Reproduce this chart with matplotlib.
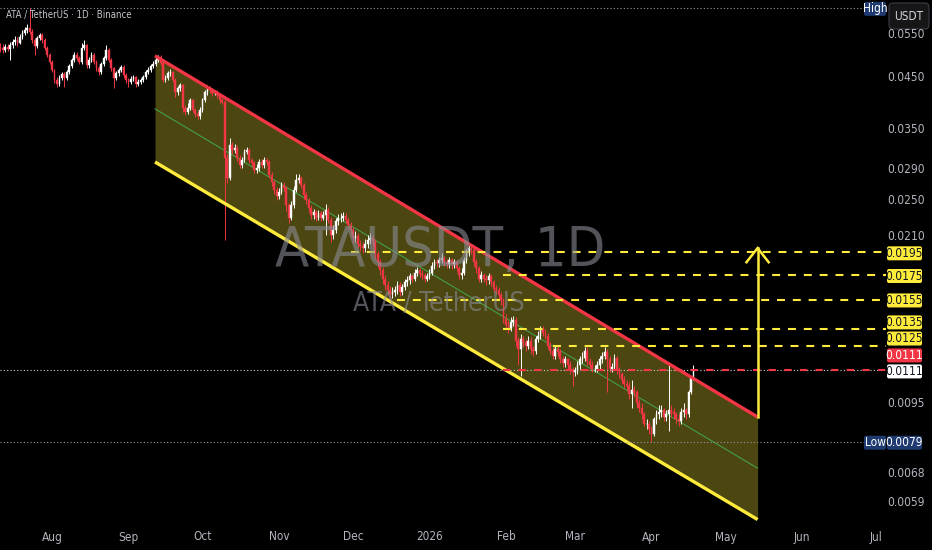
import os
import matplotlib
matplotlib.use('Agg')
import matplotlib.pyplot as plt
import numpy as np
import pandas as pd
from matplotlib.patches import FancyBboxPatch
from matplotlib import font_manager as fm

# ---------------- data ----------------
start_date = '2025-07-11'
first_open = 0.0520
close = [
    0.0517, 0.0512, 0.0519, 0.0514, 0.0524, 0.0532, 0.0537, 0.0529, 0.0545, 0.0555,
    0.0563, 0.0569, 0.0558, 0.0537, 0.0522, 0.0542, 0.0550, 0.0537, 0.0517, 0.0500,
    0.0483, 0.0465, 0.0444, 0.0435, 0.0448, 0.0456, 0.0448, 0.0461, 0.0474, 0.0488,
    0.0500, 0.0493, 0.0483, 0.0517, 0.0524, 0.0476, 0.0488, 0.0500, 0.0483, 0.0469,
    0.0461, 0.0479, 0.0493, 0.0512, 0.0488, 0.0469, 0.0448, 0.0458, 0.0465, 0.0472,
    0.0454, 0.0444, 0.0440, 0.0446, 0.0450, 0.0435, 0.0440, 0.0444, 0.0450, 0.0461,
    0.0465, 0.0474, 0.0479, 0.0488, 0.0495, 0.0481, 0.0444, 0.0448, 0.0458, 0.0461,
    0.0444, 0.0419, 0.0427, 0.0433, 0.0388, 0.0381, 0.0388, 0.0403, 0.0385, 0.0377,
    0.0373, 0.0385, 0.0403, 0.0419, 0.0427, 0.0423, 0.0417, 0.0419, 0.0413, 0.0403,
    0.0399, 0.0306, 0.0278, 0.0325, 0.0318, 0.0321, 0.0306, 0.0296, 0.0303, 0.0315,
    0.0318, 0.0303, 0.0299, 0.0289, 0.0292, 0.0300, 0.0296, 0.0303, 0.0300, 0.0282,
    0.0273, 0.0263, 0.0255, 0.0260, 0.0269, 0.0265, 0.0244, 0.0230, 0.0244, 0.0263,
    0.0275, 0.0278, 0.0269, 0.0256, 0.0250, 0.0241, 0.0233, 0.0236, 0.0230, 0.0235,
    0.0230, 0.0233, 0.0239, 0.0228, 0.0212, 0.0217, 0.0226, 0.0230, 0.0230, 0.0232,
    0.0228, 0.0222, 0.0217, 0.0209, 0.0211, 0.0203, 0.0201, 0.0199, 0.0203, 0.0207,
    0.0209, 0.0205, 0.0193, 0.0186, 0.0179, 0.0172, 0.0167, 0.0163, 0.0160, 0.0161,
    0.0163, 0.0167, 0.0161, 0.0165, 0.0169, 0.0171, 0.0174, 0.0172, 0.0177, 0.0179,
    0.0176, 0.0175, 0.0172, 0.0174, 0.0177, 0.0183, 0.0186, 0.0185, 0.0188, 0.0190,
    0.0186, 0.0184, 0.0188, 0.0184, 0.0186, 0.0181, 0.0175, 0.0177, 0.0188, 0.0195,
    0.0199, 0.0197, 0.0186, 0.0181, 0.0172, 0.0175, 0.0172, 0.0171, 0.0174, 0.0169,
    0.0164, 0.0163, 0.0159, 0.0155, 0.0142, 0.0138, 0.0136, 0.0140, 0.0141, 0.0128,
    0.0123, 0.0129, 0.0127, 0.0125, 0.0128, 0.0123, 0.0122, 0.0129, 0.0131, 0.0135,
    0.0133, 0.0131, 0.0125, 0.0122, 0.0119, 0.0123, 0.0121, 0.0117, 0.0115, 0.0117,
    0.0114, 0.0111, 0.0110, 0.0111, 0.0114, 0.0117, 0.0118, 0.0122, 0.0116, 0.0114,
    0.0112, 0.0112, 0.0114, 0.0117, 0.0119, 0.0121, 0.0117, 0.0112, 0.0113, 0.0118,
    0.0111, 0.0109, 0.0106, 0.0104, 0.0103, 0.0099, 0.0101, 0.0100, 0.0095, 0.0093,
    0.0090, 0.0086, 0.0086, 0.0084, 0.0082, 0.0088, 0.0090, 0.0091, 0.0092, 0.0089,
    0.0090, 0.0092, 0.0091, 0.0090, 0.0088, 0.0087, 0.0091, 0.0092, 0.0090, 0.0100,
    0.0107, 0.0111,
]
high = [
    0.0530, 0.0526, 0.0528, 0.0527, 0.0531, 0.0540, 0.0548, 0.0545, 0.0552, 0.0562,
    0.0572, 0.0580, 0.0626, 0.0565, 0.0542, 0.0548, 0.0556, 0.0555, 0.0541, 0.0521,
    0.0504, 0.0487, 0.0468, 0.0450, 0.0455, 0.0462, 0.0460, 0.0466, 0.0479, 0.0493,
    0.0506, 0.0508, 0.0497, 0.0530, 0.0537, 0.0528, 0.0494, 0.0506, 0.0505, 0.0487,
    0.0474, 0.0484, 0.0498, 0.0525, 0.0516, 0.0492, 0.0472, 0.0463, 0.0470, 0.0477,
    0.0476, 0.0458, 0.0449, 0.0452, 0.0455, 0.0453, 0.0445, 0.0449, 0.0455, 0.0466,
    0.0471, 0.0480, 0.0485, 0.0494, 0.0500, 0.0499, 0.0484, 0.0455, 0.0463, 0.0467,
    0.0464, 0.0447, 0.0432, 0.0437, 0.0436, 0.0393, 0.0398, 0.0408, 0.0406, 0.0389,
    0.0382, 0.0390, 0.0407, 0.0424, 0.0433, 0.0431, 0.0427, 0.0424, 0.0423, 0.0416,
    0.0407, 0.0403, 0.0312, 0.0336, 0.0330, 0.0327, 0.0325, 0.0310, 0.0308, 0.0320,
    0.0323, 0.0321, 0.0306, 0.0302, 0.0297, 0.0305, 0.0304, 0.0308, 0.0306, 0.0303,
    0.0286, 0.0276, 0.0266, 0.0265, 0.0273, 0.0273, 0.0268, 0.0247, 0.0249, 0.0268,
    0.0284, 0.0283, 0.0281, 0.0272, 0.0260, 0.0253, 0.0244, 0.0240, 0.0239, 0.0239,
    0.0238, 0.0237, 0.0246, 0.0242, 0.0231, 0.0222, 0.0230, 0.0234, 0.0235, 0.0236,
    0.0235, 0.0231, 0.0225, 0.0220, 0.0216, 0.0214, 0.0207, 0.0205, 0.0208, 0.0212,
    0.0214, 0.0212, 0.0208, 0.0196, 0.0189, 0.0182, 0.0175, 0.0170, 0.0166, 0.0165,
    0.0166, 0.0170, 0.0169, 0.0168, 0.0172, 0.0174, 0.0177, 0.0176, 0.0180, 0.0182,
    0.0181, 0.0179, 0.0177, 0.0177, 0.0180, 0.0186, 0.0189, 0.0189, 0.0191, 0.0194,
    0.0192, 0.0189, 0.0191, 0.0190, 0.0189, 0.0188, 0.0183, 0.0181, 0.0191, 0.0198,
    0.0204, 0.0202, 0.0199, 0.0189, 0.0183, 0.0178, 0.0177, 0.0175, 0.0177, 0.0176,
    0.0171, 0.0167, 0.0165, 0.0161, 0.0157, 0.0145, 0.0141, 0.0143, 0.0144, 0.0143,
    0.0130, 0.0132, 0.0131, 0.0129, 0.0131, 0.0130, 0.0125, 0.0131, 0.0134, 0.0137,
    0.0137, 0.0135, 0.0133, 0.0127, 0.0124, 0.0125, 0.0125, 0.0123, 0.0119, 0.0119,
    0.0118, 0.0116, 0.0113, 0.0113, 0.0116, 0.0119, 0.0121, 0.0124, 0.0124, 0.0118,
    0.0116, 0.0114, 0.0116, 0.0119, 0.0121, 0.0124, 0.0123, 0.0119, 0.0115, 0.0120,
    0.0119, 0.0113, 0.0110, 0.0108, 0.0106, 0.0105, 0.0106, 0.0103, 0.0101, 0.0097,
    0.0095, 0.0091, 0.0088, 0.0087, 0.0085, 0.0089, 0.0092, 0.0094, 0.0094, 0.0093,
    0.0092, 0.0114, 0.0094, 0.0093, 0.0091, 0.0090, 0.0093, 0.0095, 0.0093, 0.0101,
    0.0108, 0.0114,
]
low = [
    0.0508, 0.0505, 0.0506, 0.0509, 0.0488, 0.0518, 0.0525, 0.0522, 0.0526, 0.0540,
    0.0550, 0.0556, 0.0552, 0.0530, 0.0500, 0.0518, 0.0536, 0.0530, 0.0512, 0.0494,
    0.0478, 0.0460, 0.0438, 0.0430, 0.0432, 0.0444, 0.0429, 0.0444, 0.0457, 0.0470,
    0.0484, 0.0488, 0.0478, 0.0480, 0.0512, 0.0470, 0.0470, 0.0484, 0.0478, 0.0463,
    0.0455, 0.0457, 0.0475, 0.0489, 0.0484, 0.0463, 0.0427, 0.0444, 0.0453, 0.0460,
    0.0449, 0.0438, 0.0429, 0.0436, 0.0441, 0.0430, 0.0431, 0.0436, 0.0440, 0.0446,
    0.0456, 0.0461, 0.0469, 0.0474, 0.0483, 0.0476, 0.0440, 0.0439, 0.0444, 0.0452,
    0.0439, 0.0410, 0.0414, 0.0421, 0.0380, 0.0375, 0.0377, 0.0384, 0.0380, 0.0372,
    0.0369, 0.0369, 0.0381, 0.0399, 0.0414, 0.0418, 0.0412, 0.0413, 0.0408, 0.0398,
    0.0395, 0.0207, 0.0272, 0.0275, 0.0312, 0.0313, 0.0301, 0.0291, 0.0292, 0.0300,
    0.0311, 0.0299, 0.0294, 0.0285, 0.0285, 0.0288, 0.0291, 0.0292, 0.0296, 0.0278,
    0.0268, 0.0258, 0.0250, 0.0252, 0.0257, 0.0261, 0.0238, 0.0224, 0.0227, 0.0241,
    0.0260, 0.0271, 0.0265, 0.0252, 0.0245, 0.0236, 0.0229, 0.0229, 0.0226, 0.0227,
    0.0226, 0.0227, 0.0212, 0.0224, 0.0205, 0.0208, 0.0214, 0.0222, 0.0225, 0.0226,
    0.0224, 0.0218, 0.0213, 0.0204, 0.0205, 0.0199, 0.0196, 0.0194, 0.0195, 0.0199,
    0.0203, 0.0201, 0.0189, 0.0182, 0.0175, 0.0168, 0.0163, 0.0159, 0.0156, 0.0157,
    0.0158, 0.0160, 0.0158, 0.0159, 0.0163, 0.0166, 0.0168, 0.0169, 0.0170, 0.0174,
    0.0173, 0.0172, 0.0169, 0.0170, 0.0172, 0.0175, 0.0180, 0.0182, 0.0182, 0.0185,
    0.0183, 0.0181, 0.0181, 0.0180, 0.0181, 0.0178, 0.0172, 0.0172, 0.0175, 0.0185,
    0.0192, 0.0193, 0.0183, 0.0177, 0.0169, 0.0169, 0.0169, 0.0167, 0.0168, 0.0166,
    0.0161, 0.0160, 0.0156, 0.0152, 0.0139, 0.0135, 0.0133, 0.0134, 0.0137, 0.0125,
    0.0114, 0.0108, 0.0124, 0.0122, 0.0123, 0.0120, 0.0119, 0.0120, 0.0127, 0.0129,
    0.0131, 0.0129, 0.0123, 0.0120, 0.0117, 0.0117, 0.0119, 0.0115, 0.0113, 0.0113,
    0.0112, 0.0109, 0.0103, 0.0108, 0.0109, 0.0112, 0.0115, 0.0116, 0.0114, 0.0112,
    0.0110, 0.0110, 0.0110, 0.0112, 0.0115, 0.0117, 0.0100, 0.0110, 0.0110, 0.0111,
    0.0109, 0.0107, 0.0104, 0.0102, 0.0101, 0.0097, 0.0093, 0.0098, 0.0093, 0.0091,
    0.0088, 0.0085, 0.0084, 0.0082, 0.0079, 0.0081, 0.0086, 0.0088, 0.0089, 0.0087,
    0.0087, 0.0083, 0.0089, 0.0088, 0.0086, 0.0085, 0.0086, 0.0089, 0.0088, 0.0089,
    0.0099, 0.0106,
]

# drawings
channel_dates = ['2025-09-11 18:00', '2026-05-14']
channel_upper = [0.0498, 0.00889]
channel_lower = [0.0300, 0.00545]
target_arrow_price = 0.0199
arrow_head_price = 0.0186
level_prices = [0.0195, 0.0175, 0.0155, 0.0135, 0.0125]
level_starts = ['2025-11-30', '2026-01-31', '2025-12-19', '2026-01-31', '2026-02-20']
level_labels = ['0.0195', '0.0175', '0.0155', '0.0135', '0.0125']
red_level_price = 0.0111
red_level_start = '2026-01-31'
line_end = '2026-07-05'

axis_tick_values = [0.0550, 0.0450, 0.0350, 0.0290, 0.0250, 0.0210, 0.0095, 0.0068, 0.0059]
time_tick_dates = pd.date_range('2025-08-01', '2026-07-01', freq='MS')
time_tick_labels = ['Aug', 'Sep', 'Oct', 'Nov', 'Dec', '2026', 'Feb', 'Mar', 'Apr', 'May', 'Jun', 'Jul']

# ---------------- fonts ----------------
def pick_font(patterns):
    files = [f.fname for f in fm.fontManager.ttflist]
    for pat in patterns:
        for f in files:
            if os.path.basename(f).lower().startswith(pat.lower()):
                return f
    return None


narrow_file = pick_font(['LiberationSansNarrow-Regular', 'NotoSans-Condensed.',
                         'NotoSans-SemiCondensed.', 'DejaVuSansCondensed.',
                         'RobotoCondensed-Regular', 'OpenSans_Condensed-Regular',
                         'OpenSansCondensed-Regular'])


def FP(size):
    if narrow_file:
        return fm.FontProperties(fname=narrow_file, size=size)
    return fm.FontProperties(family=['Liberation Sans', 'DejaVu Sans'], size=size)


RED = '#f23645'
YEL = '#ffeb3b'
GRAY = '#b2b5be'
NAVY = '#1f3a70'

origin = pd.Timestamp('2025-08-01')


def day(s):
    return (pd.Timestamp(s) - origin).total_seconds() / 86400.0


dates = pd.date_range(start_date, periods=len(close), freq='D')
x = np.array([(d - origin).days for d in dates], dtype=float)
c = np.array(close)
o = np.array([first_open] + close[:-1])
hi = np.maximum(np.array(high), np.maximum(o, c))
lo = np.minimum(np.array(low), np.minimum(o, c))

W, H = 932, 550
fig = plt.figure(figsize=(W / 100, H / 100), dpi=100, facecolor='black')
ax = fig.add_axes([0, 28 / H, 1, 522 / H])
ax.set_facecolor('black')
ax.set_yscale('log')
ax.set_xlim(-21.08, 356.7)
ax.set_ylim(0.005386, 0.06499)
for s in ax.spines.values():
    s.set_visible(False)
ax.tick_params(which='both', left=False, bottom=False, labelleft=False, labelbottom=False)
ax.yaxis.set_minor_locator(matplotlib.ticker.NullLocator())
ax.set_xticks([])

# watermark (fitted to the reference width)
wm1 = fig.text(440 / W, 1 - 266 / H, 'ATAUSDT, 1D', ha='center', va='baseline',
               fontproperties=FP(46), color='#8a8d96', alpha=0.6, zorder=1.5)
wm2 = fig.text(439 / W, 1 - 311 / H, 'ATA / TetherUS', ha='center', va='baseline',
               fontproperties=FP(21), color='#8a8d96', alpha=0.6, zorder=1.5)

# channel
cx = [day(d) for d in channel_dates]
cu = np.array(channel_upper)
cl = np.array(channel_lower)
ax.fill_between(cx, cl, cu, color=YEL, alpha=0.3, lw=0, zorder=1)
ax.plot(cx, np.sqrt(cu * cl), color='#43a047', lw=0.8, zorder=1.8)

# candles
col = np.where(c >= o, '#ffffff', RED)
ax.vlines(x, lo, hi, colors=col, lw=0.7, zorder=2)
bot = np.minimum(o, c)
top = np.maximum(o, c)
ax.bar(x, top - bot, bottom=bot, width=0.72, color=col, edgecolor=col, linewidth=0.3, zorder=2.1)

ax.plot(cx, cu, color=RED, lw=2.4, zorder=3, solid_capstyle='butt')
ax.plot(cx, cl, color=YEL, lw=2.4, zorder=3, solid_capstyle='butt')

# horizontal levels
xe = day(line_end)
for p, s in zip(level_prices, level_starts):
    ax.plot([day(s), xe], [p, p], color=YEL, lw=1.5, ls=(0, (3.8, 3.8)), zorder=3.2)

x_left = ax.get_xlim()[0]
ax.plot([x_left, xe], [c[-1], c[-1]], color='#d1d4dc', lw=0.8, ls=(0, (1, 2)), zorder=3.1)
ax.plot([day(red_level_start), xe], [red_level_price] * 2, color=RED, lw=1.5,
        ls=(0, (3.5, 4)), zorder=3.2)
ax.plot([x_left, day('2026-06-29')], [hi.max()] * 2, color='#9598a1', lw=0.8, ls=(0, (1, 2)), zorder=3)
ax.plot([x_left, day('2026-06-29')], [lo.min()] * 2, color='#9598a1', lw=0.8, ls=(0, (1, 2)), zorder=3)

# arrow
xa = cx[1]
ax.plot([xa, xa], [cu[1], target_arrow_price], color=YEL, lw=1.8, zorder=3.5)
ax.plot([xa - 4.5, xa, xa + 4.5], [arrow_head_price, target_arrow_price, arrow_head_price],
        color=YEL, lw=1.8, zorder=3.5, solid_joinstyle='miter')

# time labels
for d, lab in zip(time_tick_dates, time_tick_labels):
    ax.text((d - origin).days, -15 / 522, lab, transform=ax.get_xaxis_transform(),
            ha='center', va='center', fontproperties=FP(8.5), color=GRAY, clip_on=False)

# overlay in pixel coordinates for price-scale labels
ov = fig.add_axes([0, 0, 1, 1], zorder=10)
ov.set_xlim(0, W)
ov.set_ylim(H, 0)
ov.axis('off')
ov.patch.set_alpha(0)


def ypx(p):
    return H - ax.transData.transform((0, p))[1]


for p in axis_tick_values:
    ov.text(906, ypx(p), f'{p:.4f}', ha='center', va='center', fontproperties=FP(8.6), color=GRAY)


def box(x0, w, yc, fc, text, tc):
    ov.add_patch(FancyBboxPatch((x0, yc - 7), w, 14, boxstyle='round,pad=0,rounding_size=2',
                                fc=fc, ec='none'))
    ov.text(x0 + w / 2, yc, text, ha='center', va='center', fontproperties=FP(8.6), color=tc)


level_offsets = [1, 1, 0, -7, -7]
for p, lab, off in zip(level_prices, level_labels, level_offsets):
    box(887, 35, ypx(p) + off, YEL, lab, '#131722')
box(887, 35, ypx(red_level_price) - 15, RED, f'{red_level_price:.4f}', 'white')
box(887, 35, ypx(c[-1]) + 1, 'white', f'{c[-1]:.4f}', '#131722')
box(864, 22, ypx(lo.min()) + 1, NAVY, 'Low', 'white')
box(887, 35, ypx(lo.min()) + 1, NAVY, f'{lo.min():.4f}', 'white')
box(864, 22, ypx(hi.max()) + 1, NAVY, 'High', 'white')

# USDT currency box
ov.add_patch(FancyBboxPatch((889, 3), 40, 26, boxstyle='round,pad=0,rounding_size=4',
                            fc='#161616', ec='#3a3d45', lw=0.8))
ov.text(909, 16, 'USDT', ha='center', va='center', fontproperties=FP(8.5), color='#d1d4dc')

# title
title = ov.text(6, 15, 'ATA / TetherUS · 1D · Binance', ha='left', va='center',
                fontproperties=FP(7.5), color='#c3c6ce')

# fit watermark / title widths to the reference
fig.canvas.draw()
r = fig.canvas.get_renderer()
for t, target in [(wm1, 330.0), (wm2, 172.0), (title, 125.0)]:
    w = t.get_window_extent(renderer=r).width
    if w > 0:
        t.set_fontsize(t.get_fontsize() * target / w)

fig.savefig('out.png', dpi=100, facecolor='black')
